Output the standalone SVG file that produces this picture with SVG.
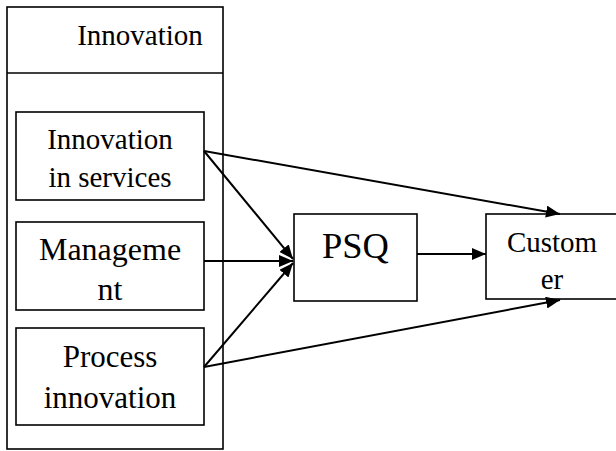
<svg xmlns="http://www.w3.org/2000/svg" width="616" height="451" viewBox="0 0 616 451">
<style>
  .box{fill:#fff;stroke:#000;stroke-width:1.6}
  .t{font-family:"Liberation Serif","Times New Roman",serif;fill:#000;text-anchor:middle}
  .c{stroke:#000;stroke-width:2;fill:none;marker-end:url(#ah)}
</style>
<defs>
  <marker id="ah" markerUnits="userSpaceOnUse" markerWidth="14" markerHeight="12" viewBox="0 0 14 12" refX="14" refY="6" orient="auto">
    <path d="M0,0 L14,6 L0,12 z" fill="#000"/>
  </marker>
  <clipPath id="mclip"><rect x="16" y="222" width="189" height="78"/></clipPath>
</defs>
<g id="innovation-group">
  <rect class="box" x="7" y="7" width="216" height="442"/>
  <line x1="7" y1="73" x2="223" y2="73" stroke="#000" stroke-width="1.6"/>
  <text class="t" x="140" y="45" font-size="29">Innovation</text>
</g>
<g id="innovation-services">
  <rect class="box" x="16" y="112" width="188" height="88"/>
  <text class="t" x="110" y="149" font-size="29">Innovation</text>
  <text class="t" x="110" y="187" font-size="29">in services</text>
</g>
<g id="management">
  <rect class="box" x="16" y="222" width="188" height="88"/>
  <g clip-path="url(#mclip)">
    <text class="t" x="110" y="260" font-size="32">Manageme</text>
    <text class="t" x="110" y="300" font-size="32">nt</text>
  </g>
</g>
<g id="process-innovation">
  <rect class="box" x="16" y="328" width="188" height="97"/>
  <text class="t" x="110" y="367" font-size="31">Process</text>
  <text class="t" x="110" y="408" font-size="31">innovation</text>
</g>
<g id="psq">
  <rect class="box" x="294" y="214" width="123" height="87"/>
  <text class="t" x="355.5" y="258" font-size="36.5">PSQ</text>
</g>
<g id="customer">
  <rect class="box" x="486" y="214" width="140" height="85"/>
  <text class="t" x="552" y="252" font-size="29">Custom</text>
  <text class="t" x="552" y="289" font-size="29">er</text>
</g>
<g id="connectors">
  <line class="c" x1="204" y1="151" x2="293" y2="259"/>
  <line class="c" x1="204" y1="261" x2="293" y2="261"/>
  <line class="c" x1="204" y1="367" x2="293" y2="263"/>
  <line class="c" x1="204" y1="151" x2="560" y2="214"/>
  <line class="c" x1="204" y1="367" x2="560" y2="300"/>
  <line class="c" x1="417" y1="254" x2="486" y2="254"/>
</g>
</svg>
